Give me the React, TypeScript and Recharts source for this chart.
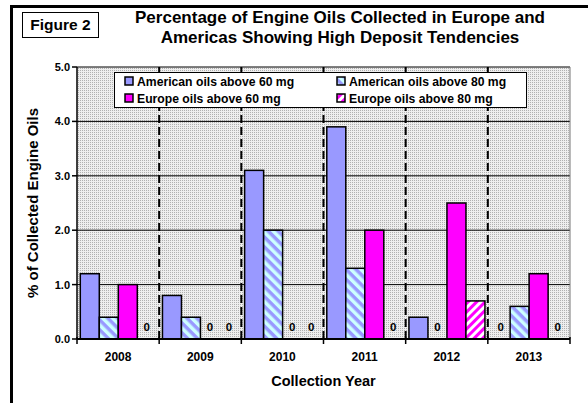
import React from 'react'
import {
  BarChart,
  Bar,
  XAxis,
  YAxis,
  CartesianGrid,
  Legend,
} from 'recharts'

const years = ['2008', '2009', '2010', '2011', '2012', '2013']
const american60 = [1.2, 0.8, 3.1, 3.9, 0.4, 0]
const american80 = [0.4, 0.4, 2.0, 1.3, 0, 0.6]
const europe60 = [1.0, 0, 0, 2.0, 2.5, 1.2]
const europe80 = [0, 0, 0, 0, 0.7, 0]
const yTicks = [0, 1, 2, 3, 4, 5]

const seriesKeys = ['a60', 'a80', 'e60', 'e80']
const seriesNames = [
  'American oils above 60 mg',
  'American oils above 80 mg',
  'Europe oils above 60 mg',
  'Europe oils above 80 mg',
]

const data = years.map((year, i) => ({
  year,
  a60: american60[i],
  a80: american80[i],
  e60: europe60[i],
  e80: europe80[i],
}))

const FONT = "Arial, 'Liberation Sans', Helvetica, sans-serif"
const PERI = '#9999FF'
const MAGENTA = '#FF00FF'

const fills = [PERI, 'url(#stripeBlue)', MAGENTA, 'url(#stripePink)']

// bar rect, or a "0" where the series has no value
const makeShape = (key: string) => (props: any) => {
  const { x, y, width, height, fill, payload } = props
  const v = payload ? payload[key] : undefined
  if (v === 0 || !height) {
    return (
      <text
        x={x + width / 2}
        y={y + (height || 0) - 8}
        textAnchor="middle"
        fontFamily={FONT}
        fontWeight="bold"
        fontSize={11.5}
        fill="#000"
      >
        0
      </text>
    )
  }
  return (
    <rect x={x} y={y} width={width} height={height} fill={fill} stroke="#000" strokeWidth={1.5} />
  )
}

const YearTick = (props: any) => {
  const { x, y, payload, index } = props
  const half = payload && payload.offset ? payload.offset : 41
  return (
    <g>
      <line x1={x - half} x2={x - half} y1={y - 2} y2={y + 5} stroke="#000" strokeWidth={1.5} />
      {index === years.length - 1 && (
        <line x1={x + half} x2={x + half} y1={y - 2} y2={y + 5} stroke="#000" strokeWidth={1.5} />
      )}
      <text
        x={x}
        y={y + 22}
        textAnchor="middle"
        fontFamily={FONT}
        fontWeight="bold"
        fontSize={12}
        fill="#000"
      >
        {payload.value}
      </text>
    </g>
  )
}

const LegendBox = () => (
  <div
    style={{
      width: 413,
      height: 36,
      boxSizing: 'border-box',
      border: '1px solid #000',
      background: '#fff',
      display: 'grid',
      gridTemplateColumns: '212px 198px',
      gridTemplateRows: '17px 17px',
      paddingLeft: 9,
      fontFamily: FONT,
      fontWeight: 'bold',
      fontSize: 12.2,
      color: '#000',
    }}
  >
    {seriesNames.map((name, i) => (
      <div key={name} style={{ display: 'flex', alignItems: 'center', whiteSpace: 'nowrap' }}>
        <svg width={11} height={11} style={{ marginRight: 2 }}>
          <rect x={1} y={1} width={8} height={8} fill={fills[i]} stroke="#000" strokeWidth={1.5} />
        </svg>
        {name}
      </div>
    ))}
  </div>
)

export default function App() {
  return (
    <div
      style={{
        position: 'absolute',
        left: 0,
        top: 0,
        width: 588,
        height: 403,
        overflow: 'hidden',
        background: '#fff',
        fontFamily: FONT,
      }}
    >
      <svg width={0} height={0} style={{ position: 'absolute' }}>
        <defs>
          <pattern id="dots" width={2} height={2} patternUnits="userSpaceOnUse">
            <rect width={2} height={2} fill="#eeeeee" />
            <rect width={1} height={1} fill="#b0b0b0" />
          </pattern>
          <pattern
            id="stripeBlue"
            width={7}
            height={7}
            patternUnits="userSpaceOnUse"
            patternTransform="rotate(-45)"
          >
            <rect width={7} height={7} fill={PERI} />
            <rect width={3.5} height={7} fill="#CCFFFF" />
          </pattern>
          <pattern
            id="stripePink"
            width={6}
            height={6}
            patternUnits="userSpaceOnUse"
            patternTransform="rotate(45)"
          >
            <rect width={6} height={6} fill={MAGENTA} />
            <rect width={3} height={6} fill="#fff" />
          </pattern>
        </defs>
      </svg>

      {/* outer frame */}
      <div
        style={{
          position: 'absolute',
          left: 10,
          top: 5,
          width: 640,
          height: 440,
          border: '3px solid #000',
        }}
      />

      <div
        style={{
          position: 'absolute',
          left: 22,
          top: 12,
          width: 77,
          height: 26,
          boxSizing: 'border-box',
          border: '1.5px solid #000',
          fontWeight: 'bold',
          fontSize: 15.5,
          lineHeight: '23px',
          textAlign: 'center',
        }}
      >
        Figure 2
      </div>

      <div
        style={{
          position: 'absolute',
          left: 90,
          top: 8,
          width: 500,
          textAlign: 'center',
          fontWeight: 'bold',
          fontSize: 17,
          lineHeight: '20px',
        }}
      >
        Percentage of Engine Oils Collected in Europe and
        <br />
        Americas Showing High Deposit Tendencies
      </div>

      <BarChart
        width={588}
        height={403}
        data={data}
        margin={{ top: 67, right: 18, bottom: 34, left: 47 }}
        barCategoryGap="4%"
        barGap={0}
        style={{ position: 'absolute', left: 0, top: 0 }}
      >
        <CartesianGrid vertical={false} stroke="#000" strokeWidth={1} fill="url(#dots)" fillOpacity={1} />
        <CartesianGrid
          horizontal={false}
          stroke="#000"
          strokeWidth={2}
          strokeDasharray="8 4"
          verticalCoordinatesGenerator={({ offset }: any) =>
            years.slice(1).map((_, i) => offset.left + ((i + 1) * offset.width) / years.length)
          }
        />
        <CartesianGrid
          horizontal={false}
          stroke="#777"
          strokeWidth={1}
          verticalCoordinatesGenerator={({ offset }: any) => [offset.left + offset.width]}
        />
        <XAxis
          dataKey="year"
          axisLine={{ stroke: '#000', strokeWidth: 2 }}
          tickLine={false}
          tickSize={0}
          tickMargin={0}
          height={30}
          tick={<YearTick />}
          interval={0}
        />
        <YAxis
          domain={[0, 5]}
          ticks={yTicks}
          width={30}
          axisLine={{ stroke: '#000', strokeWidth: 1.5 }}
          tickLine={{ stroke: '#000', strokeWidth: 1.5 }}
          tickSize={5}
          tickMargin={2}
          tickFormatter={(v: number) => v.toFixed(1)}
          tick={{ fill: '#000', fontSize: 11, fontWeight: 'bold', fontFamily: FONT }}
        />
        <Legend
          layout="horizontal"
          verticalAlign="middle"
          align="center"
          content={<LegendBox />}
          wrapperStyle={{ position: 'absolute', left: 114, top: 72, width: 413, height: 36 }}
        />
        {seriesKeys.map((key, i) => (
          <Bar
            key={key}
            dataKey={key}
            name={seriesNames[i]}
            fill={fills[i]}
            stroke="#000"
            strokeWidth={1.5}
            minPointSize={0}
            shape={makeShape(key)}
            isAnimationActive={false}
          />
        ))}
      </BarChart>

      <div
        style={{
          position: 'absolute',
          left: 77,
          width: 493,
          top: 372,
          textAlign: 'center',
          fontWeight: 'bold',
          fontSize: 14.5,
          lineHeight: '18px',
        }}
      >
        Collection Year
      </div>

      <div
        style={{
          position: 'absolute',
          left: 33 - 120,
          top: 203 - 9,
          width: 240,
          textAlign: 'center',
          fontWeight: 'bold',
          fontSize: 15,
          lineHeight: '18px',
          transform: 'rotate(-90deg)',
        }}
      >
        % of Collected Engine Oils
      </div>
    </div>
  )
}
